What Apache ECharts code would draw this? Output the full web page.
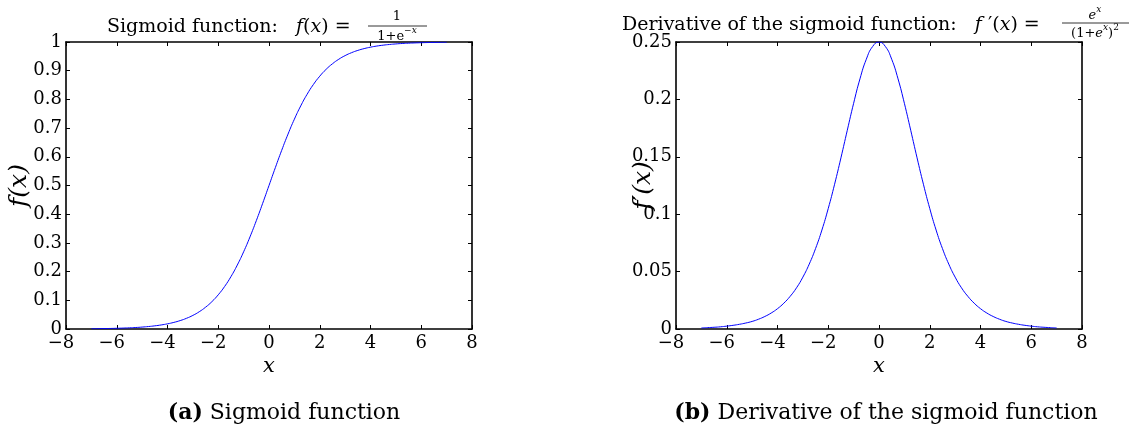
<!DOCTYPE html>
<html>
<head>
<meta charset="utf-8">
<script src="https://cdn.jsdelivr.net/npm/echarts@6/dist/echarts.min.js"></script>
<style>
  html, body { margin: 0; padding: 0; background: #fff; }
  #main { width: 1142px; height: 435px; }
</style>
</head>
<body>
<div id="main"></div>
<script>
var xs = [-7, -6.75, -6.5, -6.25, -6, -5.75, -5.5, -5.25, -5, -4.75, -4.5, -4.25, -4, -3.75, -3.5, -3.25,
          -3, -2.75, -2.5, -2.25, -2, -1.75, -1.5, -1.25, -1, -0.75, -0.5, -0.25, 0,
          0.25, 0.5, 0.75, 1, 1.25, 1.5, 1.75, 2, 2.25, 2.5, 2.75, 3, 3.25, 3.5, 3.75,
          4, 4.25, 4.5, 4.75, 5, 5.25, 5.5, 5.75, 6, 6.25, 6.5, 6.75, 7];
// values
var sigmoidVals = [0.0009, 0.0012, 0.0015, 0.0019, 0.0025, 0.0032, 0.0041, 0.0052, 0.0067, 0.0086,
                   0.0110, 0.0141, 0.0180, 0.0230, 0.0293, 0.0373, 0.0474, 0.0601, 0.0759, 0.0953,
                   0.1192, 0.1480, 0.1824, 0.2227, 0.2689, 0.3208, 0.3775, 0.4378, 0.5,
                   0.5622, 0.6225, 0.6792, 0.7311, 0.7773, 0.8176, 0.8520, 0.8808, 0.9047, 0.9241,
                   0.9399, 0.9526, 0.9627, 0.9707, 0.9770, 0.9820, 0.9859, 0.9890, 0.9914, 0.9933,
                   0.9948, 0.9959, 0.9968, 0.9975, 0.9981, 0.9985, 0.9988, 0.9991];
// values
var derivVals = [0.0009, 0.0012, 0.0015, 0.0019, 0.0025, 0.0032, 0.0041, 0.0052, 0.0066, 0.0085,
                 0.0109, 0.0139, 0.0177, 0.0225, 0.0285, 0.0359, 0.0452, 0.0565, 0.0701, 0.0862,
                 0.1050, 0.1261, 0.1491, 0.1731, 0.1966, 0.2179, 0.2350, 0.2461, 0.25,
                 0.2461, 0.2350, 0.2179, 0.1966, 0.1731, 0.1491, 0.1261, 0.1050, 0.0862, 0.0701,
                 0.0565, 0.0452, 0.0359, 0.0285, 0.0225, 0.0177, 0.0139, 0.0109, 0.0085, 0.0066,
                 0.0052, 0.0041, 0.0032, 0.0025, 0.0019, 0.0015, 0.0012, 0.0009];
var xTicks = [-8, -6, -4, -2, 0, 2, 4, 6, 8];
var yTicksA = [0, 0.1, 0.2, 0.3, 0.4, 0.5, 0.6, 0.7, 0.8, 0.9, 1];
var yTicksB = [0, 0.05, 0.1, 0.15, 0.2, 0.25];

var FONT = '"DejaVu Serif", serif';

function pairs(a, b) {
  var out = [];
  for (var i = 0; i < a.length; i++) out.push([a[i], b[i]]);
  return out;
}

var myChart = echarts.init(document.getElementById('main'));

function xAxes(gi) {
  var base = {
    gridIndex: gi, type: 'value',
    min: xTicks[0], max: xTicks[xTicks.length - 1], interval: 2,
    splitLine: { show: false },
    axisLine: { show: true, onZero: false, lineStyle: { color: '#000', width: 1.6 } },
    axisTick: { show: true, inside: true, length: 4, lineStyle: { color: '#000' } }
  };
  return [
    echarts.util.merge({
      position: 'bottom',
      name: 'x', nameLocation: 'middle', nameGap: 27, nameMoveOverlap: false,
      nameTextStyle: { fontFamily: FONT, fontStyle: 'italic', fontSize: 21, color: '#000' },
      axisLabel: {
        margin: 5, fontFamily: FONT, fontSize: 18, color: '#000',
        formatter: function (v) { return v < 0 ? '−' + Math.abs(v) + '{p| }' : String(v); },
        rich: { p: { width: 10 } }
      }
    }, base, true),
    echarts.util.merge({ position: 'top', axisLabel: { show: false } }, base, true)
  ];
}

function yAxes(gi, ticks, name, gap) {
  var base = {
    gridIndex: gi, type: 'value',
    min: 0, max: ticks[ticks.length - 1], interval: ticks[1] - ticks[0],
    splitLine: { show: false },
    axisLine: { show: true, onZero: false, lineStyle: { color: '#000', width: 1.6 } },
    axisTick: { show: true, inside: true, length: 4, lineStyle: { color: '#000' } }
  };
  return [
    echarts.util.merge({
      position: 'left',
      name: name, nameLocation: 'middle', nameGap: gap, nameMoveOverlap: false,
      nameTextStyle: { fontFamily: FONT, fontStyle: 'italic', fontSize: 25, color: '#000' },
      axisLabel: {
        margin: 4, fontFamily: FONT, fontSize: 18, color: '#000',
        formatter: function (v) { return String(+v.toFixed(2)); }
      }
    }, base, true),
    echarts.util.merge({ position: 'right', axisLabel: { show: false } }, base, true)
  ];
}

var xa = xAxes(0).concat(xAxes(1));
var ya = yAxes(0, yTicksA, 'f(x)', 34).concat(yAxes(1, yTicksB, 'f′(x)', 20));

function rtext(x, y, s, size, align) {
  return {
    type: 'text', x: x, y: y, silent: true,
    style: {
      text: s, fontFamily: FONT, fontSize: size, fill: '#000',
      verticalAlign: 'middle', align: align || 'left',
      rich: {
        i: { fontFamily: FONT, fontSize: size, fontStyle: 'italic', verticalAlign: 'bottom', lineHeight: size + 4 },
        n: { fontFamily: FONT, fontSize: size, verticalAlign: 'bottom', lineHeight: size + 4 },
        s: { fontFamily: FONT, fontSize: Math.round(size * 0.72), fontStyle: 'italic', verticalAlign: 'top', lineHeight: size + 4 },
        r: { fontFamily: FONT, fontSize: Math.round(size * 0.72), verticalAlign: 'top', lineHeight: size + 4 }
      }
    }
  };
}
function hline(x1, x2, y) {
  return { type: 'line', silent: true, shape: { x1: x1, y1: y, x2: x2, y2: y },
           style: { stroke: '#000', lineWidth: 0.8 } };
}

var option = {
  animation: false,
  backgroundColor: '#fff',
  grid: [
    { left: 66, top: 42, width: 406, height: 287, show: false },
    { left: 676, top: 42, width: 406, height: 287, show: false }
  ],
  xAxis: xa,
  yAxis: ya,
  series: [
    { name: 'sigmoid', type: 'line', xAxisIndex: 0, yAxisIndex: 0,
      data: pairs(xs, sigmoidVals), smooth: true, showSymbol: false,
      lineStyle: { color: '#0000ff', width: 1 } },
    { name: 'derivative', type: 'line', xAxisIndex: 2, yAxisIndex: 2,
      data: pairs(xs, derivVals), smooth: true, showSymbol: false,
      lineStyle: { color: '#0000ff', width: 1 } }
  ],
  graphic: [
    // left title
    rtext(107, 25, '{n|Sigmoid function:   }{i|f}{n|(}{i|x}{n|) = }', 19),
    rtext(397, 17, '1', 13, 'center'),
    hline(368, 427, 26),
    rtext(397, 35, '{n|1+e}{s|−x}', 13, 'center'),
    // right title
    rtext(622, 23, '{n|Derivative of the sigmoid function:   }{i|f} {n|′(}{i|x}{n|) = }', 19),
    rtext(1095, 14, '{i|e}{s|x}', 13, 'center'),
    hline(1062, 1129, 23),
    rtext(1095, 32, '{n|(1+}{i|e}{s|x}{n|)}{r|2}', 13, 'center'),
    // captions
    {
      type: 'text', x: 284, y: 413, silent: true,
      style: {
        text: '{b|(a)} Sigmoid function', fontFamily: FONT, fontSize: 22, fill: '#000',
        align: 'center', verticalAlign: 'middle',
        rich: { b: { fontWeight: 'bold', fontFamily: FONT, fontSize: 22 } }
      }
    },
    {
      type: 'text', x: 886, y: 413, silent: true,
      style: {
        text: '{b|(b)} Derivative of the sigmoid function', fontFamily: FONT, fontSize: 22, fill: '#000',
        align: 'center', verticalAlign: 'middle',
        rich: { b: { fontWeight: 'bold', fontFamily: FONT, fontSize: 22 } }
      }
    }
  ]
};

myChart.setOption(option);
</script>
</body>
</html>
